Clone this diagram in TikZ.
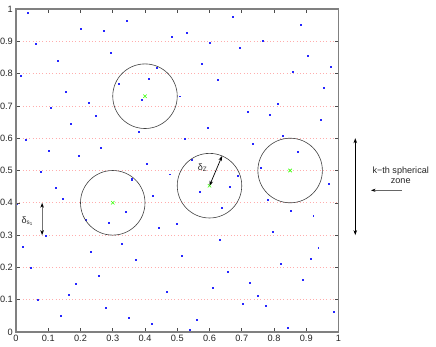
\documentclass[tikz,border=0pt]{standalone}
\usepackage{fontspec}
\setmainfont{Liberation Sans}
\usetikzlibrary{arrows.meta,calc}
\begin{document}
\begin{tikzpicture}[x=1pt,y=-1pt,
  dot/.style={fill=blue!85!white},
  ringstyle/.style={draw=black!75,line width=0.6pt},
  gridline/.style={draw=red!32,line width=0.7pt,dash pattern=on 0.9pt off 2.4pt},
  frame/.style={draw=black!50,line width=1.1pt},
  tick/.style={draw=black!70,line width=0.5pt},
  ticklabel/.style={font=\fontsize{9.2}{10}\selectfont,text=black!85,inner sep=0pt},
  txt/.style={font=\fontsize{9.1}{10}\selectfont,text=black!85,inner sep=0pt},
  dbl/.style={draw=black,line width=0.7pt,{Stealth[length=5pt,width=3.6pt,color=black]}-{Stealth[length=5pt,width=3.6pt,color=black]}},
  centermark/.style={draw=green!80!yellow,line width=0.6pt}
]
\useasboundingbox (0,0) rectangle (436,346);
% data coordinate system
\begin{scope}[shift={(16,332)},x=322.5pt,y=323pt]
  % grid lines
  \foreach \g in {0.1,0.2,...,0.95} {
    \draw[gridline] (0,\g) -- (1,\g);
  }
  % dots (pixel coordinates converted)
  \foreach \px/\py in {
    28.3/12.7,81/28.7,104/31.3,126.7/20.7,172/36.7,36/44.3,111.3/52.7,58.3/60.7,20.7/76.3,157.3/68.3,
    149.3/79,119/84.3,66/92.3,179.7/96.5,89/103,142/100,50.7/108.3,96.3/116.3,71/124.3,139.3/132.3,
    26/140.3,101.3/148,48.7/151,78.7/156,147/164,41/172,169.8/174.5,132.3/179.3,
    187.3/32.7,232.7/16.7,300.7/24.7,262.7/40.7,210/43,240.3/48.3,308.3/56.3,202.3/64.3,331/67,293.3/72.3,
    217.7/80.3,323.7/88.3,278/104.3,247.7/112.3,270.3/115,321.3/120,207.7/128.3,283/136.3,184.7/139,252.7/144.3,
    298.3/152.3,192.3/160.3,260.7/168.3,238.2/176,
    55.7/188,63.3/198.7,17.3/203.7,131.7/180,152.7/196,126/212,86/220,108.7/222.7,159.3/228,177.2/223.7,
    46/235.7,121.7/243.7,22.7/246.7,91.3/252,136.3/260,30.7/268,98.7/276,76.3/284,68.7/294.7,166.7/292,
    38.3/300,106/308,60.7/315.7,129/318.3,152/323.7,
    328.7/184.2,200/192,230.3/186.7,267.7/200,222.3/208,290.7/210.7,313.5/216,273/232,220/240,318.5/247.8,
    182.3/255.7,310.8/258.7,280.7/264,227.7/271.7,303/279.7,250.3/282.7,212.7/287.7,257.7/295.7,242.7/304,265.7/306.3,
    333.7/311.7,197.3/319.7,288.3/327.7,190/330.3} {
    \pgfmathsetmacro{\dx}{(\px-16)/322.5}
    \pgfmathsetmacro{\dy}{(332-\py)/323}
    \fill[dot] (\dx,\dy) ++(-0.85pt,-0.85pt) rectangle ++(1.7pt,1.7pt);
  }
  % circles and centres
  \foreach \n/\cx/\cy in {a/0.4/0.73,b/0.3/0.4,c/0.6/0.453,d/0.85/0.5} {
    \coordinate (ctr\n) at (\cx,\cy);
    \draw[ringstyle] (ctr\n) circle [radius=0.1];
    \draw[centermark] (ctr\n) ++(-1.7pt,-1.7pt) -- ++(3.4pt,3.4pt);
    \draw[centermark] (ctr\n) ++(-1.7pt,1.7pt) -- ++(3.4pt,-3.4pt);
  }
  % delta Z arrow
  \coordinate (rimc) at ($(ctrc)+(67:0.1)$);
  % frame and ticks
  \coordinate (ll) at (0,0);
  \coordinate (ur) at (1,1);
  \foreach \t in {0.1,0.2,...,0.95} {
    \draw[tick] (\t,0) -- ++(0,4pt);
    \draw[tick] (\t,1) -- ++(0,-4pt);
    \draw[tick] (0,\t) -- ++(4pt,0);
    \draw[tick] (1,\t) -- ++(-4pt,0);
  }
  \draw[frame] (ll) rectangle (ur);
  % tick labels
  \foreach \t/\lab in {0/0,0.1/0.1,0.2/0.2,0.3/0.3,0.4/0.4,0.5/0.5,0.6/0.6,0.7/0.7,0.8/0.8,0.9/0.9,1/1} {
    \node[ticklabel,anchor=north] (xl\lab) at ([yshift=-3pt]\t,0) {\lab};
    \node[ticklabel,anchor=east] (yl\lab) at ([xshift=-3pt]0,\t) {\lab};
  }
  % delta s1 arrow
  \coordinate (s1top) at (0.081,0.4);
  \coordinate (s1bot) at (0.081,0.3);
  % zone arrow
  \coordinate (zonetop) at (1.052,0.6);
  \coordinate (zonebot) at (1.052,0.3);
\end{scope}
\draw[dbl] (ctrc) -- (rimc);
\node[txt] (dz) at (202.5,168) {δ\textsubscript{Z}};
\draw[dbl,draw=black!55,line width=1.2pt] (s1top) -- (s1bot);
\node[txt] (ds) at (27.5,221.5) {δ\textsubscript{s\textsubscript{1}}};
\draw[dbl] (zonetop) -- (zonebot);
\node[txt,align=center] (zone) at (400.7,175.2) {k−th spherical\\zone};
\coordinate (zarrowstart) at (401.7,190.3);
\coordinate (zarrowend) at (371,190.3);
\draw[draw=black!60,line width=0.7pt,-{Stealth[length=4.5pt,width=3.2pt,color=black]}] (zarrowstart) -- (zarrowend);
\end{tikzpicture}
\end{document}
